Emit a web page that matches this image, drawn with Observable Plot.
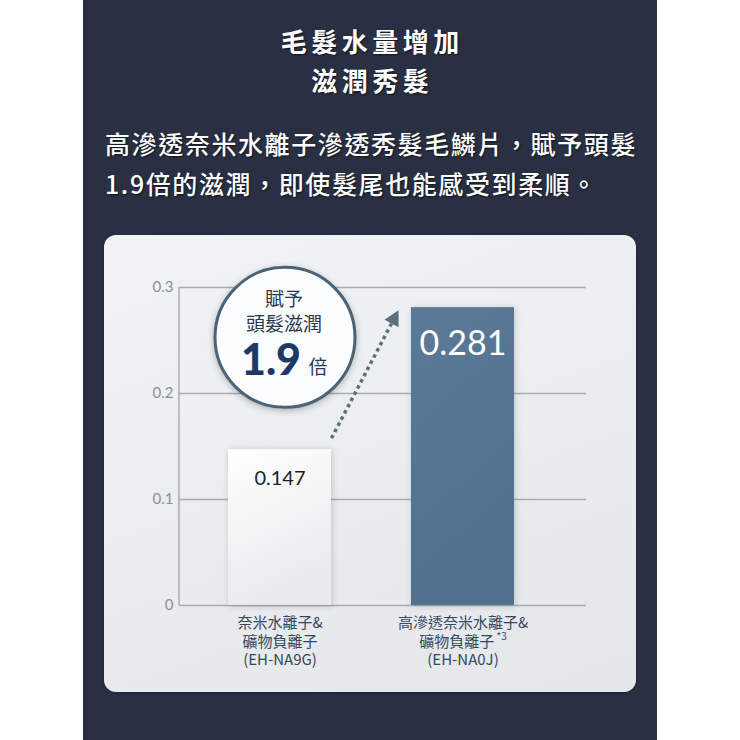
<!DOCTYPE html>
<html>
<head>
<meta charset="utf-8">
<script src="https://cdn.jsdelivr.net/npm/d3@7"></script>
<script src="https://cdn.jsdelivr.net/npm/@observablehq/plot@0.6"></script>
<style>
html,body{margin:0;padding:0;background:#fff;width:740px;height:740px;overflow:hidden;}
#panel{position:absolute;left:83px;top:0;width:574px;height:740px;background:#2a3043;}
.t{position:absolute;left:83px;width:574px;text-align:center;color:#fff;font-family:"Noto Sans CJK TC";font-weight:700;font-size:26px;letter-spacing:4.5px;text-indent:4.5px;line-height:30px;text-shadow:1px 1px 2px rgba(0,0,0,.6);white-space:nowrap;}
.p{position:absolute;left:105px;color:#fff;font-family:"Noto Sans CJK TC";font-weight:500;font-size:25px;letter-spacing:1.6px;line-height:30px;white-space:nowrap;text-shadow:1px 1px 2px rgba(0,0,0,.6);}
#card{position:absolute;left:104px;top:235px;width:532px;height:457px;border-radius:12px;background:linear-gradient(160deg,#f2f3f5,#e4e6e9);box-shadow:0 1px 3px rgba(0,0,0,.3);}
#card svg{position:absolute;left:0;top:0;overflow:visible;}
#card svg g[aria-label="dot"] circle{filter:drop-shadow(0 2px 3px rgba(0,0,0,.25));}
#card svg g[aria-label="bar"] rect{filter:drop-shadow(1px 1px 3px rgba(0,0,0,.18));}
</style>
</head>
<body>
<div id="panel"></div>
<div class="t" style="top:26px">毛髮水量增加</div>
<div class="t" style="top:65px">滋潤秀髮</div>
<div class="p" style="top:128px">高滲透奈米水離子滲透秀髮毛鱗片，賦予頭髮</div>
<div class="p" style="top:168px">1.9倍的滋潤，即使髮尾也能感受到柔順。</div>
<div id="card"></div>
<script>
// ---- data ----
const models = ["EH-NA9G", "EH-NA0J"];
const categoryLabels = ["奈米水離子&\n礦物負離子\n(EH-NA9G)", "高滲透奈米水離子&\n礦物負離子 *3\n(EH-NA0J)"];
const values = [0.147, 0.281];
const valueLabels = ["0.147", "0.281"];
const yTicks = [0, 0.1, 0.2, 0.3];
const badgeLines = ["賦予", "頭髮滋潤"];
const badgeRatio = "1.9";
const badgeUnit = "倍";
const badgeAnchor = 0.253; // y position of the callout in data units

const data = models.map((m, i) => ({model: m, value: values[i], label: valueLabels[i]}));
const badge = [{model: models[0], pos: badgeAnchor}];
const labelOf = Object.fromEntries(models.map((m, i) => [m, categoryLabels[i]]));

const W = 532, H = 457;
const chart = Plot.plot({
  width: W, height: H,
  marginLeft: 75, marginRight: 50, marginTop: 52, marginBottom: 87,
  style: {background: "transparent", fontFamily: "Lato, 'Noto Sans CJK TC', sans-serif", overflow: "visible"},
  x: {domain: models, range: [75, 460], paddingInner: 0.437, paddingOuter: 0.27, label: null},
  y: {domain: [0, 0.3], label: null},
  marks: [
    Plot.ruleY(yTicks, {stroke: "#a9adb2", strokeWidth: 1.5}),
    Plot.axisY({ticks: yTicks, tickSize: 0, tickPadding: 6, tickFormat: d => d === 0 ? "0" : d.toFixed(1),
      fontSize: 15, color: "#8b9096", label: null, fontFamily: "Lato, sans-serif"}),
    Plot.axisX({tickSize: 0, tickPadding: 9, tickFormat: m => labelOf[m], fontSize: 15,
      color: "#34485f", label: null, fontFamily: "'Noto Sans CJK TC', sans-serif", lineHeight: 1.25}),
    Plot.barY(data.filter((d, i) => i === 0), {x: "model", y: "value", fill: "url(#gWhite)"}),
    Plot.barY(data.filter((d, i) => i === 1), {x: "model", y: "value", fill: "url(#gBlue)"}),
    Plot.text(data.filter((d, i) => i === 0), {x: "model", y: "value", text: "label", dy: 29, fontSize: 20, fill: "#1e1e1e"}),
    Plot.text(data.filter((d, i) => i === 1), {x: "model", y: "value", text: "label", dy: 36, fontSize: 34, fill: "#ffffff"}),
    Plot.dot(badge, {x: "model", y: "pos", r: 70, dx: 5, fill: "#fbfcfd", stroke: "#4c6276", strokeWidth: 3}),
    Plot.text(badge, {x: "model", y: "pos", text: () => badgeLines[0], dx: 4, dy: -37, fontSize: 19, fill: "#27384d", fontFamily: "'Noto Sans CJK TC'"}),
    Plot.text(badge, {x: "model", y: "pos", text: () => badgeLines[1], dx: 4, dy: -12, fontSize: 19, fill: "#27384d", fontFamily: "'Noto Sans CJK TC'"}),
    Plot.text(badge, {x: "model", y: "pos", text: () => badgeRatio, dx: -9, dy: 24, fontSize: 43, fontWeight: 900, fill: "#1d3a66", fontFamily: "Lato, sans-serif"}),
    Plot.text(badge, {x: "model", y: "pos", text: () => badgeUnit, dx: 38, dy: 31, fontSize: 19, fill: "#27384d", fontFamily: "'Noto Sans CJK TC'"})
  ]
});
document.getElementById("card").appendChild(chart);

// gradients
const svg = d3.select(chart);
const defs = svg.insert("defs", ":first-child");
const g1 = defs.append("linearGradient").attr("id", "gWhite").attr("x1", 0).attr("y1", 0).attr("x2", 0.3).attr("y2", 1);
g1.append("stop").attr("offset", "0%").attr("stop-color", "#ffffff");
g1.append("stop").attr("offset", "100%").attr("stop-color", "#e9eaec");
const g2 = defs.append("linearGradient").attr("id", "gBlue").attr("x1", 0).attr("y1", 0).attr("x2", 0.3).attr("y2", 1);
g2.append("stop").attr("offset", "0%").attr("stop-color", "#5b7a98");
g2.append("stop").attr("offset", "100%").attr("stop-color", "#50708e");

// scales from the plot
const sx = chart.scale("x"), sy = chart.scale("y");
const xs = d3.scaleBand().domain(sx.domain).range(sx.range)
  .paddingInner(sx.paddingInner).paddingOuter(sx.paddingOuter).align(sx.align ?? 0.5);
const ys = d3.scaleLinear().domain(sy.domain).range(sy.range);
const bw = xs.bandwidth();

// y axis line
svg.insert("line", "g[aria-label='bar']")
  .attr("x1", 75).attr("x2", 75).attr("y1", ys(0)).attr("y2", ys(0.3))
  .attr("stroke", "#a9adb2").attr("stroke-width", 1.5);

// dotted arrow between the two bars
const tail = [xs(models[0]) + bw, ys(values[0]) - 11];
const head = [xs(models[1]) - 13, ys(values[1]) + 3];
const dxv = head[0] - tail[0], dyv = head[1] - tail[1], len = Math.hypot(dxv, dyv);
const u = [dxv / len, dyv / len], p = [-u[1], u[0]];
const baseC = [head[0] - 15 * u[0], head[1] - 15 * u[1]];
const ga = svg.append("g");
ga.append("line").attr("x1", tail[0]).attr("y1", tail[1]).attr("x2", baseC[0]).attr("y2", baseC[1])
  .attr("stroke", "#5b6f83").attr("stroke-width", 3.5).attr("stroke-dasharray", "3.5 3.5");
ga.append("polygon").attr("points", [
  head, [baseC[0] + 8 * p[0], baseC[1] + 8 * p[1]], [baseC[0] - 8 * p[0], baseC[1] - 8 * p[1]]
].map(q => q.join(",")).join(" ")).attr("fill", "#5b6f83");

// superscript "*3" (baseline-shift keeps following lines in place)
svg.selectAll("tspan").each(function() {
  const t = d3.select(this);
  if (t.text() === "礦物負離子 *3") {
    t.text("礦物負離子");
    t.append("tspan").attr("font-size", 10).attr("baseline-shift", "70%").text(" *3");
  }
});
</script>
</body>
</html>
